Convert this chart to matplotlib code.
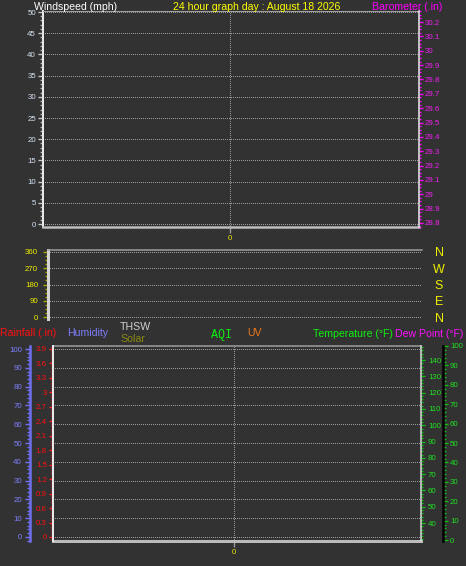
import matplotlib
matplotlib.use("Agg")
import matplotlib.pyplot as plt
from matplotlib.ticker import MultipleLocator, FixedLocator

W, H, DPI = 466, 566, 100
BG = "#323232"
GRID = "#9a9a9a"
DOT = (0, (1, 2))

# axis scales (the graph itself holds no samples)
wind_ticks = list(range(0, 55, 5))
baro_ticks = [28.8, 28.9, 29.0, 29.1, 29.2, 29.3, 29.4, 29.5, 29.6, 29.7, 29.8, 29.9, 30.0, 30.1, 30.2]
baro_labels = ["28.8", "28.9", "29", "29.1", "29.2", "29.3", "29.4", "29.5", "29.6", "29.7", "29.8", "29.9", "30", "30.1", "30.2"]
dir_ticks = [0, 90, 180, 270, 360]
compass = ["N", "E", "S", "W", "N"]
hum_ticks = list(range(0, 110, 10))
rain_ticks = [0, 0.3, 0.6, 0.9, 1.2, 1.5, 1.8, 2.1, 2.4, 2.7, 3.0, 3.3, 3.6, 3.9]
rain_labels = ["0", "0.3", "0.6", "0.9", "1.2", "1.5", "1.8", "2.1", "2.4", "2.7", "3", "3.3", "3.6", "3.9"]
temp_ticks = list(range(40, 150, 10))
dew_ticks = list(range(0, 110, 10))
hour_ticks = [0]

SANS = "Liberation Sans"
TICK_FS = 5.7


def box(x0, y0, x1, y1):
    # pixel box (top-left origin) -> figure fraction
    return [x0 / W, 1 - y1 / H, (x1 - x0) / W, (y1 - y0) / H]


def pt(p):
    # pixels -> points
    return p * 72 / DPI


def label(x, y, s, color, **kw):
    kw.setdefault("family", SANS)
    kw.setdefault("fontsize", 7.6)
    fig.text(x / W, 1 - y / H, s, color=color, va="baseline", **kw)


def hide_spines(ax):
    for sp in ax.spines.values():
        sp.set_visible(False)


def dotted_grid(ax, **kw):
    ax.grid(True, color=GRID, linestyle=DOT, linewidth=pt(1), antialiased=False, **kw)


plt.rcParams["font.family"] = SANS
fig = plt.figure(figsize=(W / DPI, H / DPI), dpi=DPI, facecolor=BG)

# ---------------- top panel: windspeed / barometer ----------------
ax1 = fig.add_axes(box(43, 11, 419, 227), facecolor=BG)
ax1.set_xlim(-1, 1.012)
ax1.set_ylim(-0.7, 50.24)
ax1.yaxis.set_major_locator(FixedLocator(wind_ticks))
ax1.yaxis.set_minor_locator(MultipleLocator(1))
ax1.tick_params(axis="y", which="major", length=pt(5), width=1, color="#c8c8c8",
                labelcolor="#d4e2f2", labelsize=TICK_FS, pad=pt(2))
ax1.tick_params(axis="y", which="minor", length=pt(3), width=1, color="#b0b0b0")
ax1.set_xticks(hour_ticks)
ax1.tick_params(axis="x", length=pt(6), width=1, color=GRID, labelcolor="#e6e600",
                labelsize=TICK_FS, pad=pt(2))
dotted_grid(ax1)
ax1.spines["top"].set_color("#a0a0a0")
ax1.spines["top"].set_linewidth(pt(1))
ax1.spines["bottom"].set_color("#bcbcbc")
ax1.spines["bottom"].set_linewidth(pt(2.5))
ax1.spines["left"].set_color("#e8e8e8")
ax1.spines["left"].set_linewidth(pt(2))
ax1.spines["right"].set_visible(False)

axb = ax1.twinx()
hide_spines(axb)
axb.spines["right"].set_visible(True)
axb.spines["right"].set_color("#f0f0f0")
axb.spines["right"].set_linewidth(pt(1.5))
axb.set_ylim(28.772, 30.277)
axb.set_yticks(baro_ticks, baro_labels)
axb.yaxis.set_minor_locator(MultipleLocator(0.025))
axb.tick_params(axis="y", which="major", length=pt(4), width=1, color="#ff00ff",
                labelcolor="#f020f0", labelsize=TICK_FS, pad=pt(2))
axb.tick_params(axis="y", which="minor", length=pt(2), width=1, color="#ff00ff")

label(34, 9.5, "Windspeed (mph)", "#ffffff")
label(173, 9.5, "24 hour graph day : August 18 2026", "#ffff00")
label(372, 9.5, "Barometer (.in)", "#ff00ff")

# ---------------- middle panel: wind direction ----------------
ax2 = fig.add_axes(box(48, 250, 422, 319), facecolor=BG)
ax2.set_xlim(-1, 1)
ax2.set_ylim(-11, 371)
ax2.set_xticks([])
ax2.yaxis.set_major_locator(FixedLocator(dir_ticks))
ax2.yaxis.set_minor_locator(MultipleLocator(22.5))
ax2.tick_params(axis="y", which="major", length=pt(5), width=1, color="#a8a800",
                labelcolor="#f0f000", labelsize=TICK_FS, pad=pt(5))
ax2.tick_params(axis="y", which="minor", length=pt(3), width=1, color="#a8a800")
dotted_grid(ax2, axis="y")
ax2.spines["top"].set_color("#a0a0a0")
ax2.spines["top"].set_linewidth(pt(1.5))
ax2.spines["left"].set_color("#d4d4d4")
ax2.spines["left"].set_linewidth(pt(3))
ax2.spines["right"].set_visible(False)
ax2.spines["bottom"].set_visible(False)

axc = ax2.twinx()
hide_spines(axc)
axc.set_ylim(ax2.get_ylim())
axc.set_yticks(dir_ticks, compass)
axc.tick_params(axis="y", length=0, labelcolor="#f0f000", labelsize=9.0, pad=pt(17))
for t in axc.get_yticklabels():
    t.set_horizontalalignment("center")

# ---------------- legend row ----------------
label(0, 336, "Rainfall (.in)", "#ff1010")
label(67, 336, "Humidity", "#7f7fff")
label(120, 330, "THSW", "#d0d0d0")
label(120, 341.5, "Solar", "#8a8a10")
label(211, 338, "AQI", "#10f010", family="Liberation Mono", fontsize=8.4)
label(247, 336.5, "UV", "#f07818")
label(313, 337, "Temperature (°F)", "#10f010")
label(395, 337, "Dew Point (°F)", "#ff10ff")

# ---------------- bottom panel ----------------
ax3 = fig.add_axes(box(53, 346, 421, 541), facecolor=BG)
ax3.set_xlim(-1, 1.033)
ax3.set_ylim(-2.13, 101.6)
ax3.yaxis.set_major_locator(FixedLocator(hum_ticks))
ax3.yaxis.set_minor_locator(MultipleLocator(2))
ax3.tick_params(axis="y", which="major", length=pt(5), width=1, color="#7070f0",
                labelcolor="#7f7fff", labelsize=TICK_FS, pad=pt(3))
ax3.tick_params(axis="y", which="minor", length=pt(3), width=1, color="#7070f0")
ax3.set_xticks(hour_ticks)
ax3.tick_params(axis="x", length=pt(6), width=1, color=GRID, labelcolor="#e6e600",
                labelsize=TICK_FS, pad=pt(2))
dotted_grid(ax3)
ax3.spines["left"].set_position(("outward", pt(23)))
ax3.spines["left"].set_color("#6f6ff0")
ax3.spines["left"].set_linewidth(pt(2.5))
ax3.spines["top"].set_color("#a0a0a0")
ax3.spines["top"].set_linewidth(pt(1.5))
ax3.spines["bottom"].set_color("#bcbcbc")
ax3.spines["bottom"].set_linewidth(pt(3))
ax3.spines["right"].set_visible(False)

# rainfall scale on the plot border
axr = ax3.twinx()
hide_spines(axr)
axr.yaxis.tick_left()
axr.spines["left"].set_visible(True)
axr.spines["left"].set_color("#e8e8e8")
axr.spines["left"].set_linewidth(pt(2))
axr.set_ylim(-0.083, 3.962)
axr.set_yticks(rain_ticks, rain_labels)
axr.yaxis.set_minor_locator(MultipleLocator(0.05))
axr.tick_params(axis="y", which="major", length=pt(4), width=1, color="#ff2020",
                labelcolor="#ff1010", labelsize=TICK_FS, pad=pt(2))
axr.tick_params(axis="y", which="minor", length=pt(2), width=1, color="#e02020")

# temperature scale
axt = ax3.twinx()
hide_spines(axt)
axt.spines["right"].set_visible(True)
axt.spines["right"].set_color("#e0e0e0")
axt.spines["right"].set_linewidth(pt(1.5))
axt.set_ylim(29, 148.6)
axt.set_yticks(temp_ticks)
axt.yaxis.set_minor_locator(MultipleLocator(2))
axt.tick_params(axis="y", which="major", length=pt(4), width=1, color="#10c010",
                labelcolor="#20e020", labelsize=TICK_FS, pad=pt(3))
axt.tick_params(axis="y", which="minor", length=pt(2), width=1, color="#10c010")

# dew point scale
axd = ax3.twinx()
hide_spines(axd)
axd.spines["right"].set_visible(True)
axd.spines["right"].set_position(("outward", pt(22)))
axd.spines["right"].set_color("#000000")
axd.spines["right"].set_linewidth(pt(2.5))
axd.set_ylim(-0.5, 100)
axd.set_yticks(dew_ticks)
axd.yaxis.set_minor_locator(MultipleLocator(2))
axd.tick_params(axis="y", which="major", length=pt(5), width=1, color="#10c010",
                labelcolor="#20e020", labelsize=TICK_FS, pad=pt(2))
axd.tick_params(axis="y", which="minor", length=pt(3), width=1, color="#10c010")

fig.savefig("out.png", dpi=DPI, facecolor=BG)
